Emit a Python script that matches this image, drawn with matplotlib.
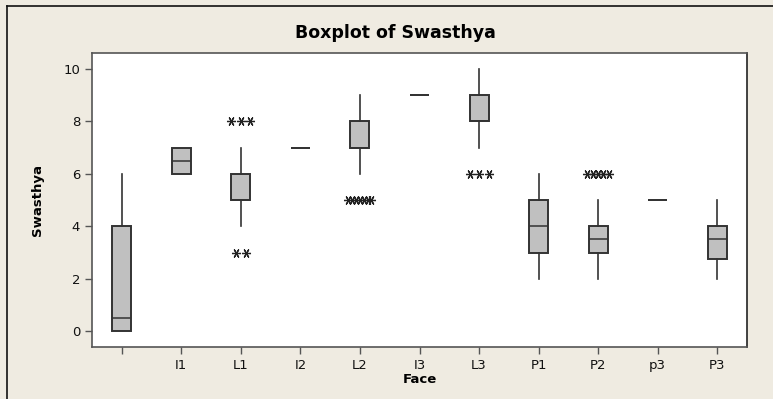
import matplotlib
matplotlib.use("Agg")
import matplotlib.pyplot as plt
from matplotlib.lines import Line2D

# data
faces = ["", "I1", "L1", "I2", "L2", "I3", "L3", "P1", "P2", "p3", "P3"]
whislo = [0, 6, 4, 7, 6, 9, 7, 2, 2, 5, 2]
q1 = [0, 6, 5, 7, 7, 9, 8, 3, 3, 5, 2.75]
med = [0.5, 6.5, 5, 7, 7, 9, 8, 4, 3.5, 5, 3.5]
q3 = [4, 7, 6, 7, 8, 9, 9, 5, 4, 5, 4]
whishi = [6, 7, 7, 7, 9, 9, 10, 6, 5, 5, 5]
# outliers: (group index, value, count)
outliers = [(2, 8, 3), (2, 3, 2), (4, 5, 7), (6, 6, 3), (8, 6, 5)]

BG = "#efebe1"
BOXC = "#c0c0c0"
EDGE = "#333333"


def main():
    fig = plt.figure(figsize=(7.73, 3.99), dpi=100)
    fig.patch.set_facecolor(BG)
    # outer frame, only left and top edges are visible in the crop
    fx, fy = 7 / 773, 1 - 6 / 399
    fig.lines.append(Line2D([fx, fx], [0, fy], transform=fig.transFigure,
                            color="#111111", linewidth=1.2))
    fig.lines.append(Line2D([fx, 1], [fy, fy], transform=fig.transFigure,
                            color="#111111", linewidth=1.2))

    ax = fig.add_axes([92 / 773, 1 - 347 / 399, (747 - 92) / 773, (347 - 53) / 399])
    ax.set_facecolor("white")

    stats = []
    for i in range(len(faces)):
        stats.append({"whislo": whislo[i], "q1": q1[i], "med": med[i],
                      "q3": q3[i], "whishi": whishi[i], "fliers": []})
    pos = list(range(1, len(faces) + 1))
    ax.bxp(stats, positions=pos, widths=0.32, patch_artist=True,
           showcaps=False,
           boxprops=dict(facecolor=BOXC, edgecolor=EDGE, linewidth=1.4),
           medianprops=dict(color=EDGE, linewidth=1.1),
           whiskerprops=dict(color=EDGE, linewidth=1.2))

    for g, v, n in outliers:
        step = 0.16 if n <= 3 else 0.45 / n
        xs = [pos[g] + (k - (n - 1) / 2) * step for k in range(n)]
        ax.plot(xs, [v] * n, linestyle="none", marker=(6, 2, 90),
                markersize=6.5, color="#222222", markeredgewidth=0.9)

    ax.set_xlim(0.5, 11.5)
    ax.set_ylim(-0.6, 10.6)
    ax.set_yticks([0, 2, 4, 6, 8, 10])
    ax.set_xticks(pos)
    ax.set_xticklabels(faces)
    ax.tick_params(direction="out", length=5, width=1, color="#555555",
                   labelsize=9.5, labelcolor="#111111")
    for sp in ax.spines.values():
        sp.set_color("#555555")
        sp.set_linewidth(1.2)
    ax.spines["right"].set_color("#222222")

    ax.set_xlabel("Face", fontsize=9.5, fontweight="bold", labelpad=1)
    ax.set_ylabel("Swasthya", fontsize=9.5, fontweight="bold", labelpad=14)
    fig.text(395 / 773, 1 - 33 / 399, "Boxplot of Swasthya", ha="center",
             va="center", fontsize=12.5, fontweight="bold")

    fig.savefig("out.png", dpi=100, facecolor=BG)


if __name__ == "__main__":
    main()
